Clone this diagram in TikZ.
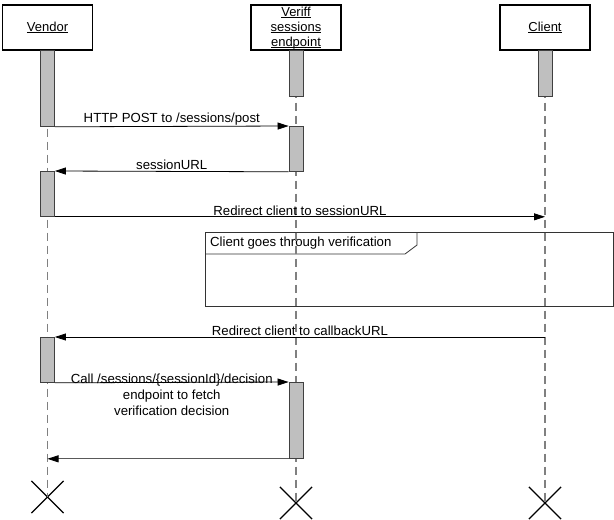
\documentclass[tikz,border=0pt]{standalone}
\usepackage{amsmath}
\usepackage{fontspec}
\setmainfont{Liberation Sans}
\usetikzlibrary{arrows.meta,shapes.misc}
\newcommand{\ulname}[1]{\underline{\smash[b]{#1}}}
\begin{document}
\begin{tikzpicture}[x=1pt,y=-1pt,
		actor/.style={draw,line width=1.3pt,minimum width=90pt,minimum height=45pt,inner sep=0pt,align=center,font=\fontsize{13}{15}\selectfont},
		actbar/.style={draw=black!75,fill=black!25,line width=0.8pt,minimum width=14pt,inner sep=0pt,anchor=north},
		life/.style={draw=black!50,line width=1.3pt,dash pattern=on 8pt off 5pt},
		msg/.style={-{Triangle[length=11pt,width=7pt,black]},line width=0.8pt},
		txt/.style={font=\fontsize{13.2}{16}\selectfont,inner sep=1pt},
		kill/.style={cross out,draw,line width=1.2pt,minimum size=31pt,inner sep=0pt},
		fragment/.style={draw=black!80,line width=0.8pt,minimum width=408pt,minimum height=74pt,inner sep=0pt,anchor=north west}]
		\useasboundingbox (0,0) rectangle (614,520);
		\node[fragment] (frm) at (205,232) {};
		\draw[black!80,line width=0.8pt] (frm.north west) ++(0,22) -- ++(200,0) -- ++(12,-9) -- ++(0,-13);
		\node[txt,anchor=west] (frmlbl) at (209,243) {Client goes through verification};
		\node[actor] (vend) at (47.5,27.5) {\ulname{Vendor}};
		\node[actor] (veri) at (296,27.5) {\ulname{Veriff}\\\ulname{sessions}\\\ulname{endpoint}};
		\node[actor] (clnt) at (545,27.5) {\ulname{Client}};
		\node[kill] (vx) at (47.5,497) {};
		\node[kill] (ex) at (296,503) {};
		\node[kill] (cx) at (545,503) {};
		\draw[life] (vend.south) -- (vx.center);
		\draw[life] (veri.south) -- (ex.center);
		\draw[life] (clnt.south) -- (cx.center);
		\node[actbar,minimum height=76pt] (v1) at (47.5,50) {};
		\node[actbar,minimum height=45pt] (v2) at (47.5,171) {};
		\node[actbar,minimum height=45pt] (v3) at (47.5,337) {};
		\node[actbar,minimum height=46pt] (e1) at (296,50) {};
		\node[actbar,minimum height=45pt] (e2) at (296,126) {};
		\node[actbar,minimum height=76pt] (e3) at (296,382) {};
		\node[actbar,minimum height=46pt] (c1) at (545,50) {};
		\draw[msg] (v1.south east) -- node[txt,above]{HTTP POST to /sessions/post} (e2.north west);
		\draw[msg] (e2.south west) -- node[txt,above]{sessionURL} (v2.north east);
		\draw[msg] (v2.south east) -- node[txt,above]{Redirect client to sessionURL} (c1.south |- v2.south east);
		\draw[msg] (c1.south |- v3.north east) -- node[txt,above]{Redirect client to callbackURL} (v3.north east);
		\draw[msg] (v3.south east) -- node[txt,below,yshift=10pt,align=center]{Call /sessions/\{sessionId\}/decision\\endpoint to fetch\\verification decision} (e3.north west);
		\draw[msg,draw=black!65] (e3.south west) -- (vend.south |- e3.south west);
	\end{tikzpicture}
\end{document}
